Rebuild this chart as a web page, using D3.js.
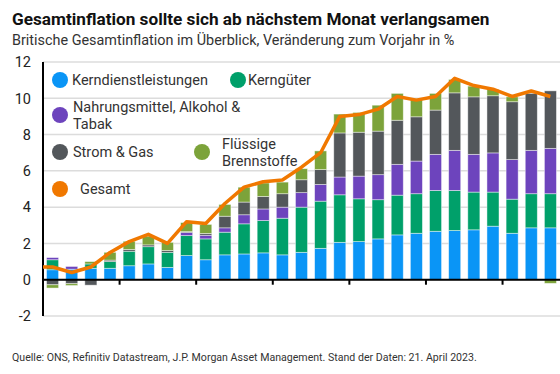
<!DOCTYPE html>
<html><head><meta charset="utf-8">
<script src="https://cdn.jsdelivr.net/npm/d3@7"></script>
<style>
html,body{margin:0;padding:0;background:#fff;}
svg{display:block;font-family:Roboto, "Noto Sans", sans-serif;}
</style></head>
<body>
<svg id="chart" width="560" height="374"></svg>
<script>
const months = ["Jan 21","Feb 21","Mär 21","Apr 21","Mai 21","Jun 21","Jul 21","Aug 21","Sep 21","Okt 21","Nov 21","Dez 21",
  "Jan 22","Feb 22","Mär 22","Apr 22","Mai 22","Jun 22","Jul 22","Aug 22","Sep 22","Okt 22","Nov 22","Dez 22",
  "Jan 23","Feb 23","Mär 23"];
const kerndienstleistungen = [0.55,0.58,0.63,0.63,0.77,0.87,0.68,1.33,1.10,1.37,1.42,1.48,1.37,1.51,1.73,2.06,2.10,2.25,2.47,2.56,2.67,2.71,2.75,2.95,2.56,2.86,2.86];
const kerngueter = [0.55,0.00,0.24,0.37,0.80,0.95,0.83,1.10,1.15,1.25,1.66,1.78,2.02,2.49,2.60,2.62,2.36,2.16,2.19,2.18,2.25,2.21,2.08,1.88,1.88,1.88,1.88];
const nahrungsmittel = [0.12,0.15,0.00,0.00,0.00,0.00,0.00,0.17,0.20,0.24,0.50,0.64,0.61,0.80,0.92,0.98,1.25,1.38,1.70,1.80,1.99,2.21,2.08,2.16,2.18,2.39,2.50];
const stromGas = [-0.28,-0.22,-0.30,0.08,0.10,0.10,0.10,0.05,0.10,0.64,0.70,0.69,0.74,0.71,0.82,2.43,2.42,2.40,2.43,2.44,2.44,3.17,3.17,3.15,3.19,3.14,3.17];
const brennstoffe = [-0.18,-0.10,0.13,0.43,0.45,0.48,0.45,0.50,0.50,0.65,0.82,0.74,0.64,0.61,1.03,1.04,1.09,1.43,1.48,1.01,0.92,0.74,0.59,0.35,0.27,0.00,-0.20];
const gesamt = [0.7,0.4,0.7,1.5,2.1,2.5,2.0,3.2,3.1,4.2,5.1,5.4,5.5,6.2,7.0,9.0,9.1,9.4,10.1,9.9,10.1,11.1,10.7,10.5,10.1,10.4,10.1];
const yTicks = [-2,0,2,4,6,8,10,12];
const seriesKeys = ["Kerndienstleistungen","Kerngüter","Nahrungsmittel","Strom & Gas","Flüssige Brennstoffe"];
const seriesColors = ["#0a95f6","#00a06a","#6d44bd","#53575b","#7ca33a"];
const lineColor = "#f07800";

const svg = d3.select("#chart");
const mLeft = 43, mRight = 560, mTop = 62, mBottom = 316;

const table = months.map((m,i)=>({
  month:m,
  "Kerndienstleistungen":kerndienstleistungen[i],
  "Kerngüter":kerngueter[i],
  "Nahrungsmittel":nahrungsmittel[i],
  "Strom & Gas":stromGas[i],
  "Flüssige Brennstoffe":brennstoffe[i],
  gesamt:gesamt[i]
}));

const x = d3.scaleBand().domain(months).range([mLeft,mRight]).paddingInner(0.37).paddingOuter(0.185);
const y = d3.scaleLinear().domain([-2,12]).range([mBottom,mTop]);

// title
svg.append("text").attr("x",12).attr("y",25).attr("font-size",17.2).attr("font-weight",700).attr("fill","#111")
  .text("Gesamtinflation sollte sich ab nächstem Monat verlangsamen");
svg.append("text").attr("x",12).attr("y",45).attr("font-size",14.4).attr("fill","#333")
  .text("Britische Gesamtinflation im Überblick, Veränderung zum Vorjahr in %");

// gridlines
svg.append("g").selectAll("line").data(yTicks).join("line")
  .attr("x1",mLeft).attr("x2",mRight).attr("y1",d=>y(d)).attr("y2",d=>y(d))
  .attr("stroke","#dcdcdc").attr("stroke-width",1.5);

// y labels
svg.append("g").selectAll("text").data(yTicks).join("text")
  .attr("x",31).attr("y",d=>y(d)).attr("dy","0.36em").attr("text-anchor","end")
  .attr("font-size",14.5).attr("fill","#222").text(d=>d);

// legend
const lg = svg.append("g").attr("font-size",14.5).attr("fill","#333");
const legendItems = [
  {c:seriesColors[0], cx:60, cy:80, lines:["Kerndienstleistungen"], tx:72},
  {c:seriesColors[1], cx:238, cy:80, lines:["Kerngüter"], tx:248},
  {c:seriesColors[2], cx:60, cy:115, lines:["Nahrungsmittel, Alkohol &","Tabak"], tx:73},
  {c:seriesColors[3], cx:60, cy:152, lines:["Strom & Gas"], tx:73},
  {c:seriesColors[4], cx:202, cy:152, lines:["Flüssige","Brennstoffe"], tx:222},
  {c:lineColor, cx:60, cy:189, lines:["Gesamt"], tx:80}
];
legendItems.forEach(it=>{
  lg.append("circle").attr("cx",it.cx).attr("cy",it.cy).attr("r",8).attr("fill",it.c);
  const n = it.lines.length;
  it.lines.forEach((l,k)=>{
    lg.append("text").attr("x",it.tx).attr("y",it.cy + (k-(n-1)/2)*17).attr("dy","0.36em").attr("fill","#333").text(l);
  });
});

// bars
const stack = d3.stack().keys(seriesKeys).offset(d3.stackOffsetDiverging);
const stacked = stack(table);
svg.append("g").selectAll("g").data(stacked).join("g")
  .attr("fill",(d,i)=>seriesColors[i])
  .selectAll("rect").data(d=>d).join("rect")
  .attr("x",d=>x(d.data.month)).attr("width",x.bandwidth())
  .attr("y",d=>y(Math.max(d[0],d[1]))).attr("height",d=>Math.abs(y(d[0])-y(d[1])))
  .attr("stroke","rgba(255,255,255,0.55)").attr("stroke-width",0.8);

// axes lines
svg.append("line").attr("x1",mLeft).attr("x2",mRight).attr("y1",y(0)).attr("y2",y(0)).attr("stroke","#000").attr("stroke-width",2);
svg.append("line").attr("x1",mLeft).attr("x2",mLeft).attr("y1",y(12)).attr("y2",y(-2)).attr("stroke","#000").attr("stroke-width",2);
const tickIdx = [4,8,12,16,20,24];
svg.append("g").selectAll("line").data(tickIdx).join("line")
  .attr("x1",i=>x(months[i]) - x.step()*x.paddingInner()/2)
  .attr("x2",i=>x(months[i]) - x.step()*x.paddingInner()/2)
  .attr("y1",y(0)).attr("y2",y(0)+5).attr("stroke","#000").attr("stroke-width",2);

// line
const pts = [[x.range()[0], gesamt[0]]].concat(months.map((m,i)=>[x(m)+x.bandwidth()/2, gesamt[i]]));
svg.append("path").datum(pts)
  .attr("d",d3.line().x(d=>d[0]).y(d=>y(d[1])))
  .attr("fill","none").attr("stroke",lineColor).attr("stroke-width",3.5).attr("stroke-linejoin","round");

// footer
svg.append("text").attr("x",12).attr("y",361).attr("font-size",10.6).attr("fill","#333")
  .text("Quelle: ONS, Refinitiv Datastream, J.P. Morgan Asset Management. Stand der Daten: 21. April 2023.");
</script>
</body></html>
